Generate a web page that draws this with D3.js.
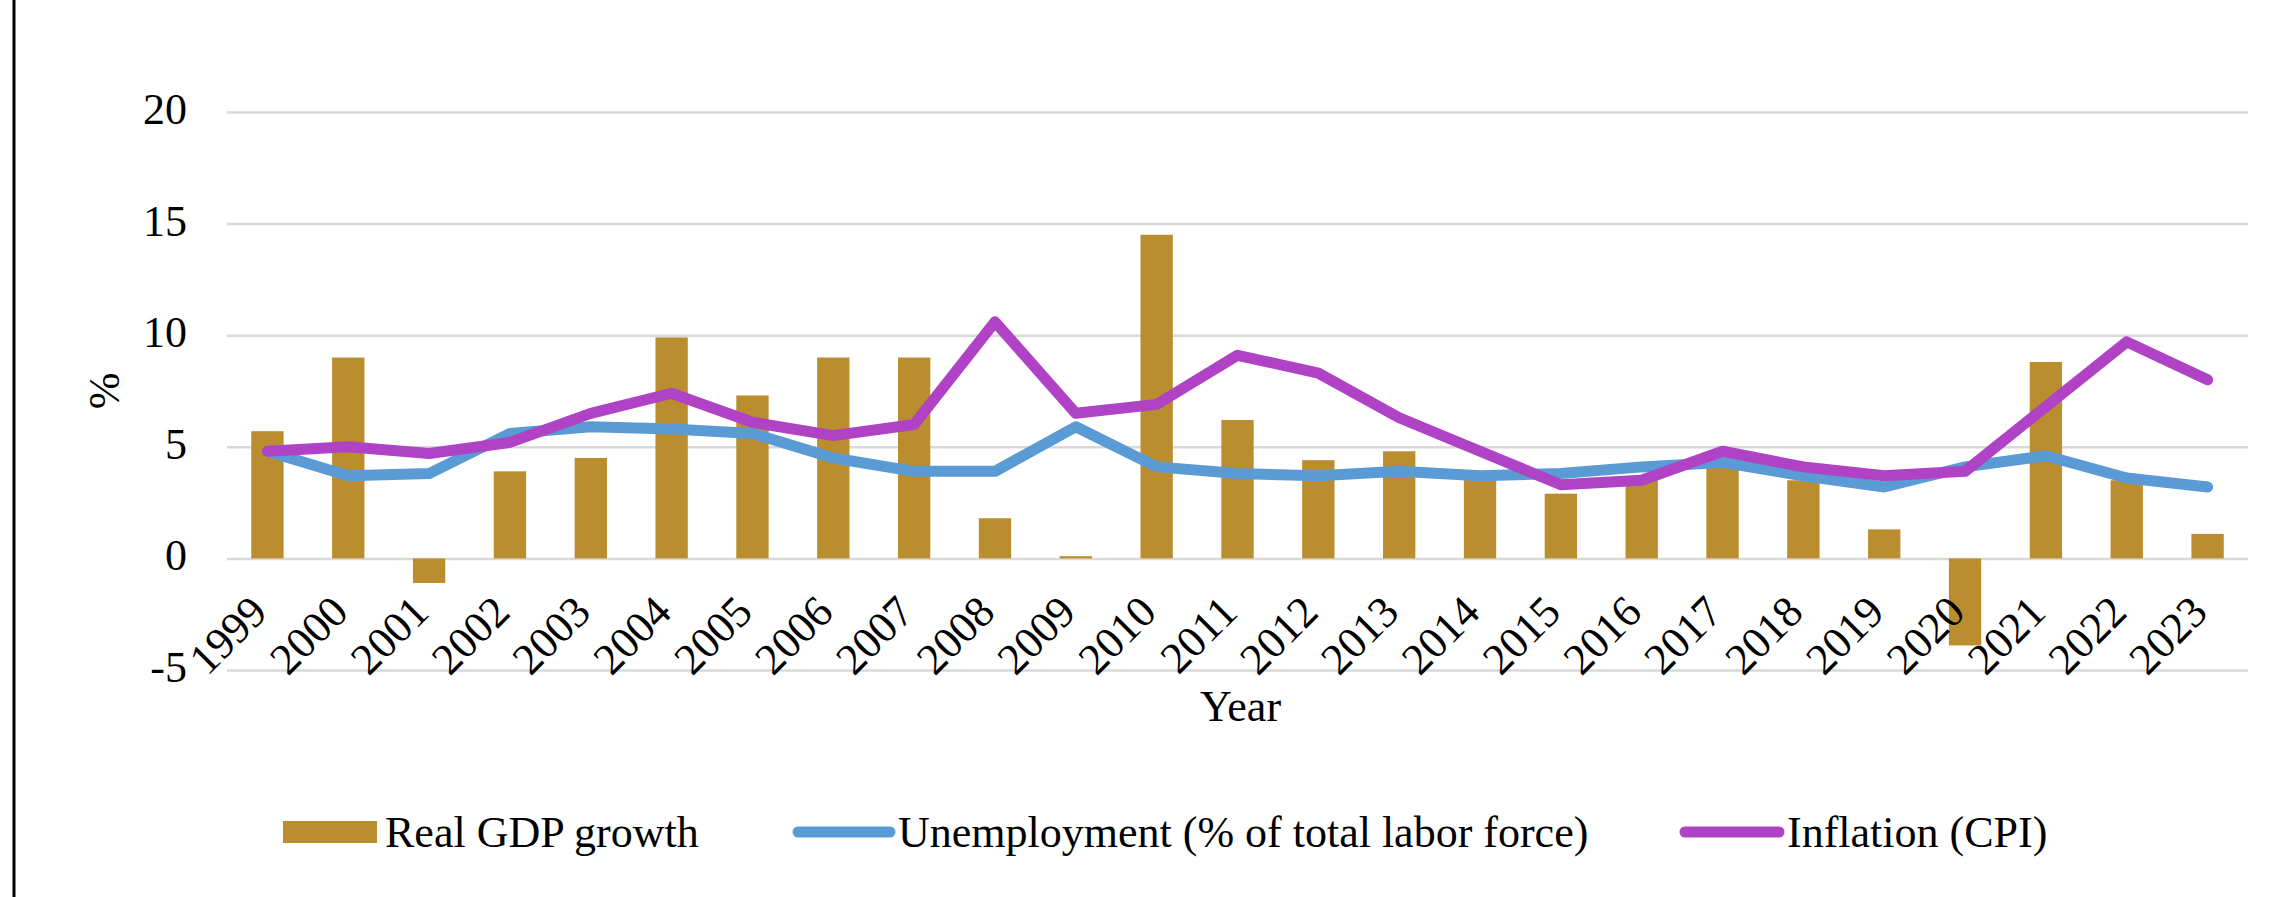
<!DOCTYPE html>
<html>
<head>
<meta charset="utf-8">
<script src="https://cdn.jsdelivr.net/npm/d3@7"></script>
<style>
  body { margin: 0; background: #fff; }
  text { font-family: "Liberation Serif", "Times New Roman", serif; fill: #000; }
</style>
</head>
<body>
<div id="chart"></div>
<script>
// chart data
var years = ["1999", "2000", "2001", "2002", "2003", "2004", "2005", "2006", "2007", "2008",
  "2009", "2010", "2011", "2012", "2013", "2014", "2015", "2016", "2017", "2018",
  "2019", "2020", "2021", "2022", "2023"];
var gdpGrowth = [5.7, 9.0, -1.1, 3.9, 4.5, 9.9, 7.3, 9.0, 9.0, 1.8,
  0.1, 14.5, 6.2, 4.4, 4.8, 3.7, 2.9, 3.6, 4.2, 3.5,
  1.3, -3.9, 8.8, 3.5, 1.1];
var unemployment = [4.8, 3.7, 3.8, 5.6, 5.9, 5.8, 5.6, 4.5, 3.9, 3.9,
  5.9, 4.1, 3.8, 3.7, 3.9, 3.7, 3.8, 4.1, 4.3, 3.7,
  3.2, 4.1, 4.6, 3.6, 3.2];
var inflation = [4.8, 5.0, 4.7, 5.2, 6.5, 7.4, 6.1, 5.5, 6.0, 10.6,
  6.5, 6.9, 9.1, 8.3, 6.3, 4.8, 3.3, 3.5, 4.8, 4.1,
  3.7, 3.9, 6.8, 9.7, 8.0];
var yTicks = [-5, 0, 5, 10, 15, 20];
var legendLabels = ["Real GDP growth", "Unemployment (% of total labor force)", "Inflation (CPI)"];

// svg size and margins
var svgWidth = 2282;
var svgHeight = 897;
var margin = { top: 112, right: 34, bottom: 227, left: 227 };
var width = svgWidth - margin.left - margin.right;
var height = svgHeight - margin.top - margin.bottom;

var colors = { gdp: "#BA8E2F", unemp: "#5B9BD5", infl: "#B042C6" };

var svg = d3.select("#chart")
  .append("svg")
  .attr("width", svgWidth)
  .attr("height", svgHeight);

// left frame line
svg.append("line")
  .attr("x1", 14).attr("x2", 14)
  .attr("y1", 0).attr("y2", svgHeight)
  .attr("stroke", "#000")
  .attr("stroke-width", 3);

var chartGroup = svg.append("g")
  .attr("transform", `translate(${margin.left}, ${margin.top})`);

// scales
var xScale = d3.scaleBand()
  .domain(years)
  .range([0, width])
  .paddingInner(0.6)
  .paddingOuter(0.3);

var yScale = d3.scaleLinear()
  .domain([-5, 20])
  .range([height, 0]);

// gridlines + y labels (plain hyphen for negatives, like the original)
var leftAxis = d3.axisLeft(yScale)
  .tickValues(yTicks)
  .tickFormat(d => String(d))
  .tickSize(-width)
  .tickPadding(40);

var yAxis = chartGroup.append("g")
  .call(leftAxis);
yAxis.select(".domain").remove();
yAxis.selectAll("line")
  .attr("stroke", "#D9D9D9")
  .attr("stroke-width", 2.5);
yAxis.selectAll("text")
  .attr("font-size", "44px")
  .attr("font-family", "Liberation Serif, Times New Roman, serif")
  .attr("dy", "0.26em");

// bars
chartGroup.append("g")
  .selectAll("rect")
  .data(gdpGrowth)
  .enter()
  .append("rect")
  .attr("x", (d, i) => xScale(years[i]))
  .attr("width", xScale.bandwidth())
  .attr("y", d => yScale(Math.max(0, d)))
  .attr("height", d => Math.abs(yScale(d) - yScale(0)))
  .attr("fill", colors.gdp);

// lines
var lineGen = d3.line()
  .x((d, i) => xScale(years[i]) + xScale.bandwidth() / 2)
  .y(d => yScale(d));

chartGroup.append("path")
  .datum(unemployment)
  .attr("d", lineGen)
  .attr("fill", "none")
  .attr("stroke", colors.unemp)
  .attr("stroke-width", 11)
  .attr("stroke-linejoin", "round")
  .attr("stroke-linecap", "round");

chartGroup.append("path")
  .datum(inflation)
  .attr("d", lineGen)
  .attr("fill", "none")
  .attr("stroke", colors.infl)
  .attr("stroke-width", 11)
  .attr("stroke-linejoin", "round")
  .attr("stroke-linecap", "round");

// rotated year labels
chartGroup.append("g")
  .selectAll("text")
  .data(years)
  .enter()
  .append("text")
  .attr("text-anchor", "end")
  .attr("font-size", "44px")
  .attr("transform", d => `translate(${xScale(d) + xScale.bandwidth() / 2 + 2}, ${yScale(0) + 56}) rotate(-45)`)
  .text(d => d);

// axis titles
chartGroup.append("text")
  .attr("x", width / 2 + 3)
  .attr("y", height + 51)
  .attr("text-anchor", "middle")
  .attr("font-size", "44px")
  .text("Year");

svg.append("text")
  .attr("transform", `translate(119, ${margin.top + height / 2}) rotate(-90)`)
  .attr("text-anchor", "middle")
  .attr("font-size", "44px")
  .text("%");

// legend
var legendY = 832;
var legend = svg.append("g");

legend.append("rect")
  .attr("x", 283).attr("y", legendY - 11)
  .attr("width", 94).attr("height", 22)
  .attr("fill", colors.gdp);
legend.append("text")
  .attr("x", 385).attr("y", legendY + 15)
  .attr("font-size", "44px")
  .text(legendLabels[0]);

legend.append("line")
  .attr("x1", 798).attr("x2", 890)
  .attr("y1", legendY).attr("y2", legendY)
  .attr("stroke", colors.unemp)
  .attr("stroke-width", 11)
  .attr("stroke-linecap", "round");
legend.append("text")
  .attr("x", 898).attr("y", legendY + 15)
  .attr("font-size", "44px")
  .text(legendLabels[1]);

legend.append("line")
  .attr("x1", 1685).attr("x2", 1779)
  .attr("y1", legendY).attr("y2", legendY)
  .attr("stroke", colors.infl)
  .attr("stroke-width", 11)
  .attr("stroke-linecap", "round");
legend.append("text")
  .attr("x", 1787).attr("y", legendY + 15)
  .attr("font-size", "44px")
  .text(legendLabels[2]);
</script>
</body>
</html>
